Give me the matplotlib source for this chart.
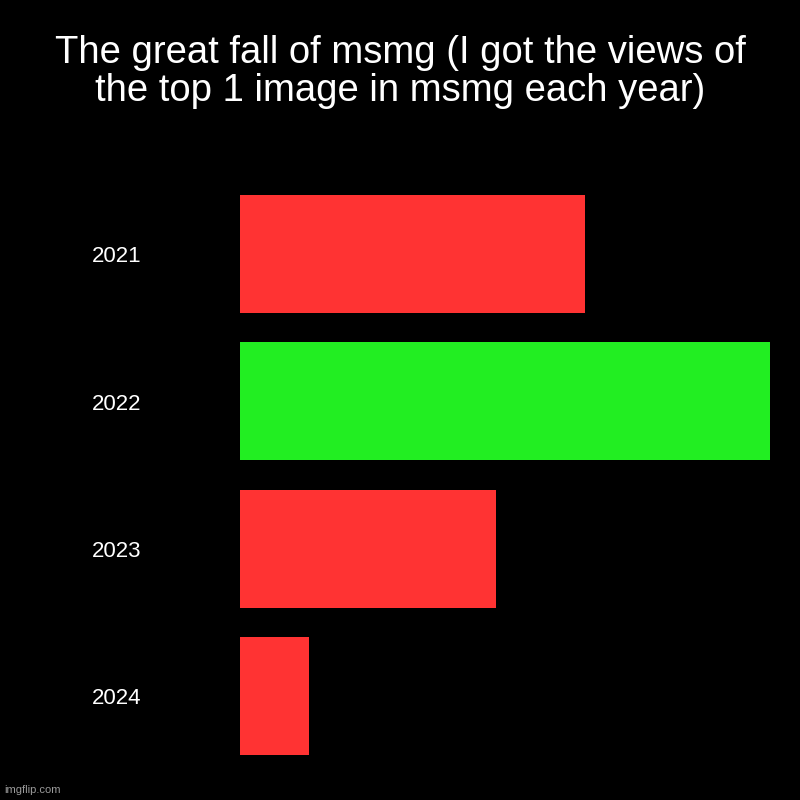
import matplotlib
matplotlib.use("Agg")
import matplotlib.pyplot as plt

years = ["2021", "2022", "2023", "2024"]
views = [345, 530, 256, 69]
bar_colors = ["#ff3333", "#22ee22", "#ff3333", "#ff3333"]

title = "The great fall of msmg (I got the views of\nthe top 1 image in msmg each year)"

plt.rcParams["font.family"] = ["Liberation Sans", "DejaVu Sans"]

fig = plt.figure(figsize=(8, 8), dpi=100, facecolor="black")
ax = fig.add_axes([0.3, 0.05625, 0.6625, 0.7])
ax.set_facecolor("black")

pos = list(range(len(years)))
ax.barh(pos, views, height=0.8, color=bar_colors)
ax.set_ylim(len(years) - 0.6, -0.4)
ax.set_xlim(0, max(views))

ax.set_xticks([])
ax.set_yticks([])
for s in ax.spines.values():
    s.set_visible(False)

# year labels sit a touch below bar centre, like the original
for p, yr in zip(pos, years):
    ax.text(-148, p + 0.02, yr, color="white", fontsize=16, ha="left", va="center",
            transform=ax.transData, clip_on=False)

fig.text(0.5, 0.91, title, color="white", fontsize=27.5, ha="center", va="center",
         linespacing=1.1)
fig.text(0.005, 0.012, "imgflip.com", color="#9a9a9a", fontsize=8, ha="left", va="center")

fig.savefig("out.png", dpi=100, facecolor="black")
